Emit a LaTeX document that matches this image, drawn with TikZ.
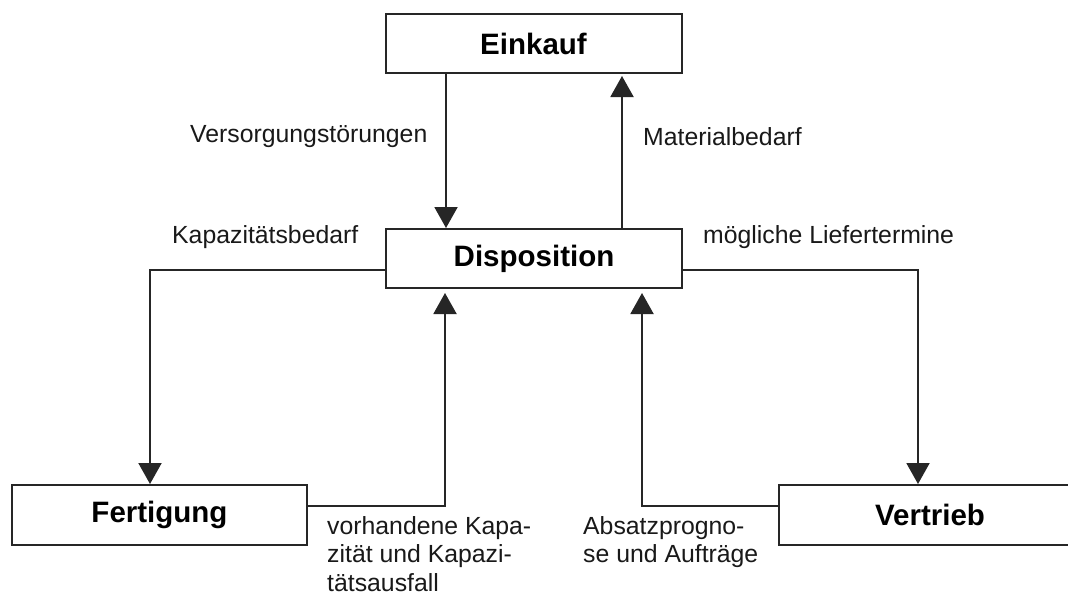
\documentclass[tikz,border=0pt]{standalone}
\usepackage{fontspec}
\setmainfont{Liberation Sans}
\usetikzlibrary{arrows.meta}
\begin{document}
\begin{tikzpicture}[x=1pt,y=-1pt,
  box/.style={draw=black!85, line width=2pt, fill=white, rectangle,
    minimum width=296pt, minimum height=59pt, inner sep=0pt,
    font=\fontsize{29.5}{34}\selectfont\bfseries},
  lbl/.style={inner sep=0pt, font=\fontsize{24.8}{28.5}\selectfont, text=black!90},
  flow/.style={draw=black!85, line width=2pt,
    -{Triangle[width=23pt,length=21pt]}},
]
\useasboundingbox (0,0) rectangle (1068,597);
\fill[white] (0,0) rectangle (1068,597);

% departments
\node[box] (einkauf) at (533.5,43.5) {Einkauf};
\node[box] (dispo) at (534,258.5) {Disposition};
\node[box, minimum height=60pt, minimum width=295pt] (fert) at (159.5,515) {Fertigung};
\node[box, minimum height=60pt, minimum width=302pt] (vert) at (930,515) {Vertrieb};

% guide coordinates for the connector routes
\coordinate (xsupply) at (446,0);
\coordinate (xmat) at (622,0);
\coordinate (xprod) at (150,0);
\coordinate (xcap) at (445,0);
\coordinate (xsales) at (918,0);
\coordinate (xfore) at (642,0);
\coordinate (yupper) at (0,270);
\coordinate (ylower) at (0,506);

% connectors
\draw[flow] (einkauf.south -| xsupply) -- (dispo.north -| xsupply);
\draw[flow, shorten >=2pt] (dispo.north -| xmat) -- (einkauf.south -| xmat);
\draw[flow] (dispo.west |- yupper) -| (fert.north -| xprod);
\draw[flow, shorten >=4pt] (fert.east |- ylower) -| (dispo.south -| xcap);
\draw[flow] (dispo.east |- yupper) -| (vert.north -| xsales);
\draw[flow, shorten >=4pt] (vert.west |- ylower) -| (dispo.south -| xfore);

% flow labels
\node[lbl, anchor=west] (lsupply) at (190,137) {Versorgungstörungen};
\node[lbl, anchor=west] (lmat) at (643,137) {Materialbedarf};
\node[lbl, anchor=west] (lprod) at (172,237) {Kapazitätsbedarf};
\node[lbl, anchor=west] (lsales) at (703,237) {mögliche Liefertermine};
\node[lbl, anchor=north west, align=left] (lcap) at (327,516)
  {vorhandene Kapa-\\zität und Kapazi-\\tätsausfall};
\node[lbl, anchor=north west, align=left] (lfore) at (583,516)
  {Absatzprogno-\\se und Aufträge};
\end{tikzpicture}
\end{document}
